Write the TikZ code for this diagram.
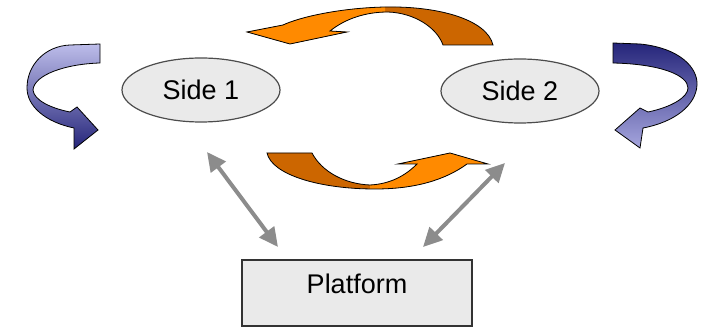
\documentclass[tikz,border=0pt]{standalone}
\usepackage{fontspec}
\setmainfont{Liberation Sans}
\usetikzlibrary{arrows.meta,shapes.geometric}
\definecolor{fillgray}{HTML}{EAEAEA}
\definecolor{linegray}{HTML}{8C8C8C}
\definecolor{orgdark}{HTML}{CC6600}
\definecolor{orglight}{HTML}{FF8A00}
\definecolor{bluedark}{HTML}{25257A}
\definecolor{bluemid}{HTML}{4A4AAE}
\definecolor{bluelight}{HTML}{BDBDEA}
\newcommand{\toparc}{(493,45) .. controls (487,20) and (440,6) .. (385,7)
  .. controls (340,8) and (300,17) .. (283,25) -- (247,32) -- (290,44) -- (347,32) -- (330,31)
  .. controls (345,19) and (365,12) .. (388,12) .. controls (415,13) and (437,28) .. (443,45) -- cycle}
\newcommand{\botarc}{(267,153) -- (312,153) .. controls (322,172) and (345,184) .. (370,185)
  .. controls (390,184) and (405,176) .. (417,164) -- (398,164) -- (450,153) -- (488,164) -- (467,164)
  .. controls (445,180) and (415,189) .. (375,189) .. controls (320,189) and (272,175) .. (267,153) -- cycle}

\begin{document}
\begin{tikzpicture}[x=1pt,y=-1pt,font=\fontsize{27}{32}\selectfont,
  side/.style={ellipse,draw=black!70,line width=1.2pt,fill=fillgray,minimum width=158pt,minimum height=64pt,inner sep=0pt},
  plat/.style={rectangle,draw=black!80,line width=1.2pt,fill=fillgray,minimum width=230pt,minimum height=66pt,text height=20pt,text depth=20pt},
  link/.style={draw=linegray,line width=4pt,{Triangle[length=19pt,width=18pt]}-{Triangle[length=19pt,width=18pt]}},
  ribbon/.style={draw=black,line width=0.8pt}]
\useasboundingbox (0,0) rectangle (703,328);

% the two sides and the platform
\node[side] (s1) at (201,90) {Side 1};
\node[side] (s2) at (520,91) {Side 2};
\node[plat] (plat) at (357,293) {Platform};

% links to the platform
\coordinate (s1p) at (207,152);
\coordinate (p1) at (278,247);
\coordinate (s2p) at (505,163);
\coordinate (p2) at (423,247);
\draw[link] (s1p) -- (p1);
\draw[link] (s2p) -- (p2);

% orange arcs between the sides
\fill[orgdark] \toparc;
\begin{scope}
  \clip (0,0) rectangle (385,100);
  \fill[orglight] \toparc;
\end{scope}
\draw[ribbon] \toparc;

\fill[orgdark] \botarc;
\begin{scope}
  \clip (370,100) rectangle (703,250);
  \fill[orglight] \botarc;
\end{scope}
\draw[ribbon] \botarc;

% blue turn arrows at the outer ends
\shadedraw[ribbon,top color=bluelight,middle color=bluemid,bottom color=bluedark]
  (100,44) -- (100,63) .. controls (65,64) and (34,75) .. (33,90)
  .. controls (34,100) and (50,108) .. (70,112) -- (77,107) -- (98,130) -- (74,149) -- (74,128)
  .. controls (45,122) and (27,106) .. (27,88) .. controls (27,65) and (45,46) .. (70,45) -- cycle;
\shadedraw[ribbon,top color=bluedark,middle color=bluemid,bottom color=bluelight!80!bluemid]
  (613,43) -- (640,44) .. controls (680,48) and (698,68) .. (697,85)
  .. controls (696,105) and (675,122) .. (643,128) -- (640,148) -- (615,130) -- (640,108) -- (648,112)
  .. controls (672,107) and (688,97) .. (688,88) .. controls (688,75) and (660,64) .. (613,63) -- cycle;
\end{tikzpicture}
\end{document}
